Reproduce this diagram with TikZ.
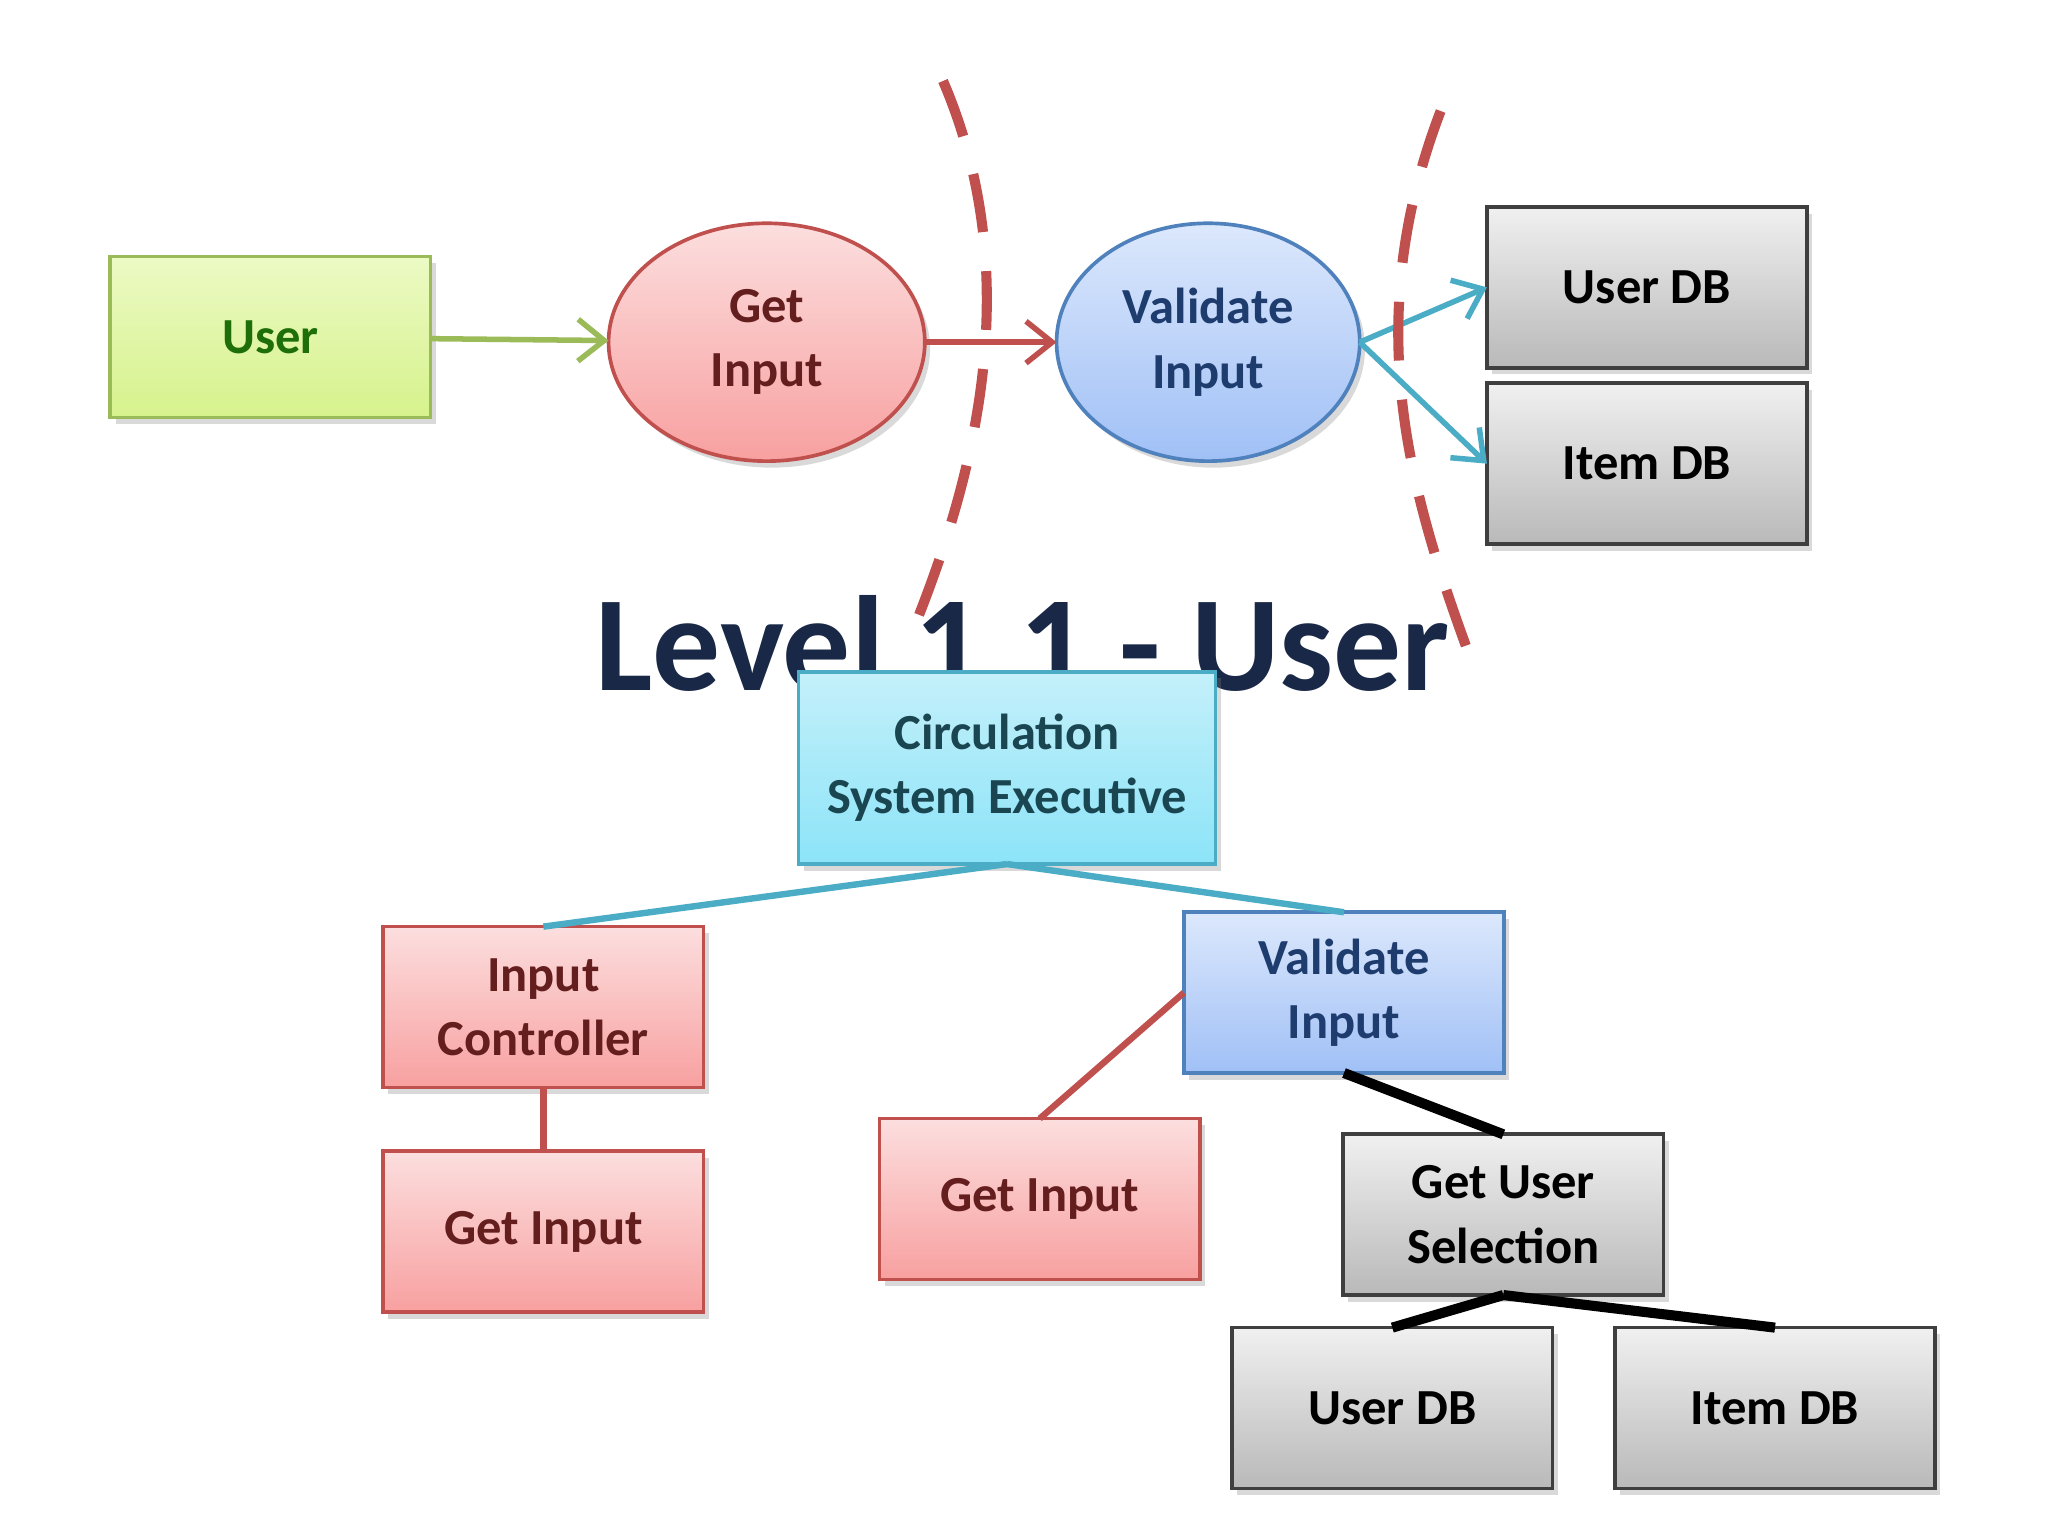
\documentclass[tikz,border=0pt]{standalone}
\usepackage{fontspec}
\setmainfont{Carlito}
\usetikzlibrary{shadows,arrows.meta,shapes.geometric}
\definecolor{gB}{HTML}{9BBB59}\definecolor{rB}{HTML}{C0504D}\definecolor{bB}{HTML}{4F81BD}
\definecolor{tB}{HTML}{4BACC6}\definecolor{kB}{HTML}{3F3F3F}
\definecolor{g1}{RGB}{236,250,196}\definecolor{g2}{RGB}{214,242,140}\definecolor{gT}{RGB}{30,110,10}
\definecolor{r1}{RGB}{252,222,222}\definecolor{r2}{RGB}{248,160,160}\definecolor{rT}{RGB}{100,30,30}
\definecolor{b1}{RGB}{220,232,252}\definecolor{b2}{RGB}{160,192,246}\definecolor{bT}{RGB}{30,60,110}
\definecolor{k1}{RGB}{240,240,240}\definecolor{k2}{RGB}{185,185,185}
\definecolor{c1}{RGB}{196,240,250}\definecolor{c2}{RGB}{140,228,248}\definecolor{cT}{RGB}{25,70,80}
\definecolor{ttl}{RGB}{25,40,70}
\tikzset{x=0.01cm,y=-0.01cm,
 base/.style={draw,line width=0.8pt,font=\fontsize{11}{14}\selectfont\bfseries,align=center,outer sep=0pt,
   drop shadow={opacity=0.3,shadow xshift=0.04cm,shadow yshift=-0.05cm}},
 box/.style={base,rectangle,minimum width=2.45cm,minimum height=1.23cm,inner sep=0pt},
 sG/.style={draw=gB,top color=g1,bottom color=g2,text=gT},
 sR/.style={draw=rB,top color=r1,bottom color=r2,text=rT},
 sB/.style={draw=bB,top color=b1,bottom color=b2,text=bT},
 sK/.style={draw=kB,top color=k1,bottom color=k2,text=black},
 sC/.style={draw=tB,top color=c1,bottom color=c2,text=cT},
 arr/.style={line width=1.2pt,-{Straight Barb[length=2mm,width=3.2mm]}},
 dsh/.style={draw=rB,line width=2.2pt,dash pattern=on 4.5mm off 3mm},
 ln/.style={line width=1.4pt}}
\begin{document}
\begin{tikzpicture}
\useasboundingbox (0,0) rectangle (1568,1176);
\node[box,sG] (user) at (207,258) {User};
\node[base,ellipse,sR,minimum width=2.42cm,minimum height=1.82cm] (gi) at (587,262) {Get\\Input};
\node[base,ellipse,sB,minimum width=2.32cm,minimum height=1.82cm] (vi) at (925,262) {Validate\\Input};
\node[box,sK] (udb) at (1261,220) {User DB};
\node[box,sK] (idb) at (1261,355) {Item DB};
\draw[arr,draw=gB] (user) -- (gi);
\draw[arr,draw=rB] (gi) -- (vi);
\draw[arr,draw=tB] (vi.east) -- (udb.west);
\draw[arr,draw=tB] (vi.east) -- (idb.west);
\draw[dsh] (722,62) .. controls (790,220) and (740,380) .. (700,480);
\draw[dsh] (1103,85) .. controls (1040,250) and (1080,380) .. (1128,510);
\node[font=\fontsize{29.5}{35}\selectfont\bfseries,text=ttl,inner sep=0pt] (title) at (783,493) {Level 1.1 - User};
\node[box,sC,minimum width=3.19cm,minimum height=1.47cm] (cse) at (771,588) {Circulation\\System Executive};
\node[box,sR] (ic) at (416,771) {Input\\Controller};
\node[box,sR] (gi1) at (416,943) {Get Input};
\node[box,sB] (vi2) at (1029,760) {Validate\\Input};
\node[box,sR] (gi2) at (796,918) {Get Input};
\node[box,sK] (gus) at (1151,930) {Get User\\Selection};
\node[box,sK] (udb2) at (1066,1078) {User DB};
\node[box,sK] (idb2) at (1359,1078) {Item DB};
\draw[ln,draw=tB] (cse.south) -- (ic.north);
\draw[ln,draw=tB] (cse.south) -- (vi2.north);
\draw[ln,draw=rB] (ic.south) -- (gi1.north);
\draw[ln,draw=rB] (vi2.west) -- (gi2.north);
\draw[line width=2.2pt] (vi2.south) -- (gus.north);
\draw[line width=2.2pt] (gus.south) -- (udb2.north);
\draw[line width=2.2pt] (gus.south) -- (idb2.north);
\end{tikzpicture}
\end{document}
